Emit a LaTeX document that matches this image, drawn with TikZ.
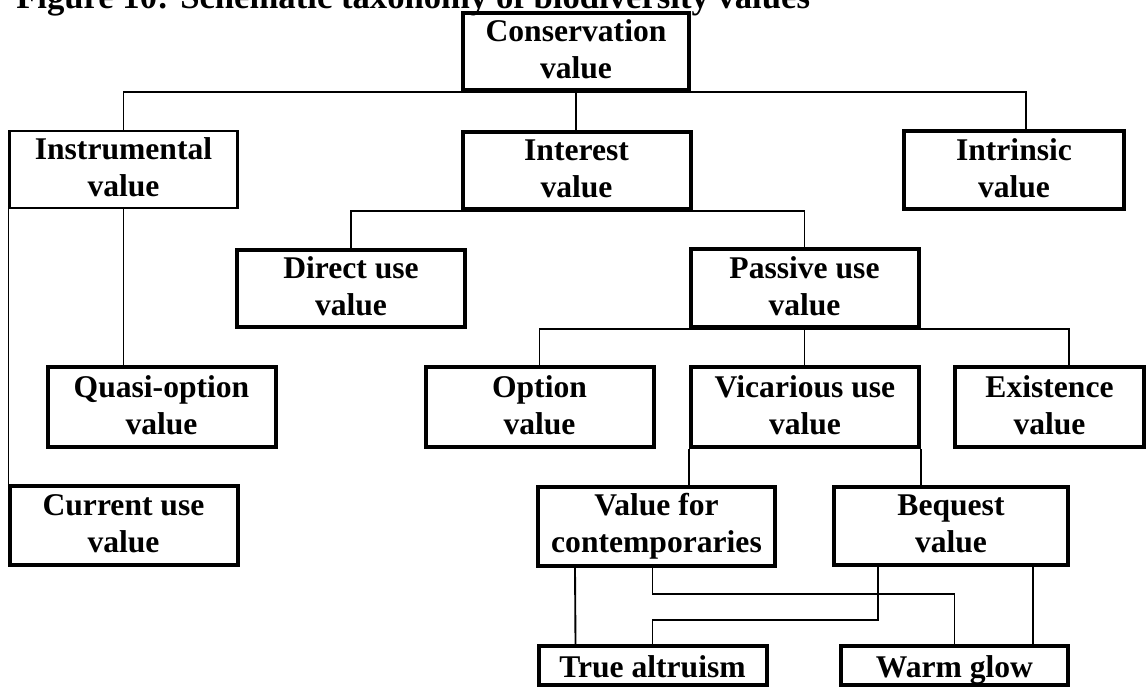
\documentclass[tikz,border=0pt]{standalone}
\usepackage{fontspec}
\setmainfont{Liberation Serif}
\begin{document}
\begin{tikzpicture}[x=0.75pt, y=-0.75pt,
  box/.style={draw, line width=3pt, inner sep=0pt, align=center,
              minimum width=171pt, minimum height=58pt,
              font=\bfseries\fontsize{23.7}{27.75}\selectfont,
              execute at begin node={\rule{0pt}{25.5pt}},
              execute at end node={\rule[-3pt]{0pt}{3pt}}},
  leaf/.style={draw, line width=3pt, inner sep=0pt,
              minimum width=171pt, minimum height=29.25pt,
              font=\bfseries\fontsize{23.7}{27.75}\selectfont,
              execute at begin node={\rule{0pt}{23.25pt}},
              execute at end node={\rule[-5.25pt]{0pt}{5.25pt}}},
  link/.style={line width=1.4pt}]
  \useasboundingbox (0,0) rectangle (1146,686);

  % Title
  \node[anchor=base west, inner sep=0pt,
        font=\bfseries\fontsize{26}{30}\selectfont] (title) at (16,8)
    {Figure 10: Schematic taxonomy of biodiversity values};

  % Top level
  \node[box, minimum width=169.5pt] (cons) at (576,51.5) {Conservation\\value};

  % Second level
  \node[box, line width=1.6pt] (instr) at (123.5,169.5) {Instrumental\\value};
  \node[box] (inter) at (576.5,170.5) {Interest\\value};
  \node[box, minimum width=165pt] (intr) at (1014,170) {Intrinsic\\value};

  % Interest value branch
  \node[box] (direct) at (351,288.5) {Direct use\\value};
  \node[box] (passive) at (804.5,288) {Passive use\\value};

  % Third level
  \node[box, minimum height=60pt] (quasi) at (161.5,407) {Quasi-option\\value};
  \node[box, minimum height=60pt] (option) at (539.5,407) {Option\\value};
  \node[box, minimum height=60pt] (vic) at (805,407) {Vicarious use\\value};
  \node[box, minimum height=60pt, minimum width=141.75pt] (exist) at (1049.5,407)
    {Existence\\value};
  \node[box, minimum height=59pt] (current) at (123.5,525.5) {Current use\\value};

  % Vicarious use split
  \node[box, minimum width=177.75pt, minimum height=59pt] (vfc) at (656.5,526.5)
    {Value for\\contemporaries};
  \node[box, minimum width=175.5pt] (beq) at (951,526) {Bequest\\value};
  \node[leaf] (true) at (652.5,665.5) {True altruism};
  \node[leaf, minimum width=170.25pt] (warm) at (954.5,665.5) {Warm glow};

  % Connectors
  \draw[link] (instr.north) |- (cons.south) -| ([xshift=9pt]intr.north);
  \draw[link] (cons.south) -- (cons.south |- inter.north);
  \draw[link] (direct.north) |- (inter.south) -| (passive.north);
  \draw[link] (option.north) |- (passive.south) -| ([xshift=14.6pt]exist.north);
  \draw[link] (passive.south) -- (passive.south |- vic.north);
  \draw[link] (vic.south west) -- (vic.south west |- vfc.north);
  \draw[link] (vic.south east) -- (vic.south east |- beq.north);
  \draw[link] (instr.south west) -- (instr.south west |- current.north);
  \draw[link] (instr.south) -- (instr.south |- quasi.north);

  \draw[link] ([xshift=29.25pt]vfc.south west) -- ([xshift=29.25pt]true.north west);
  \draw[link] (true.north |- vfc.south) -- ++(0,26) -| (warm.north);
  \draw[link] ([xshift=34.5pt]beq.south west) -- ++(0,53) -| (true.north);
  \draw[link] ([xshift=-27.75pt]beq.south east) -- ([xshift=-27.75pt]warm.north east);
\end{tikzpicture}
\end{document}
